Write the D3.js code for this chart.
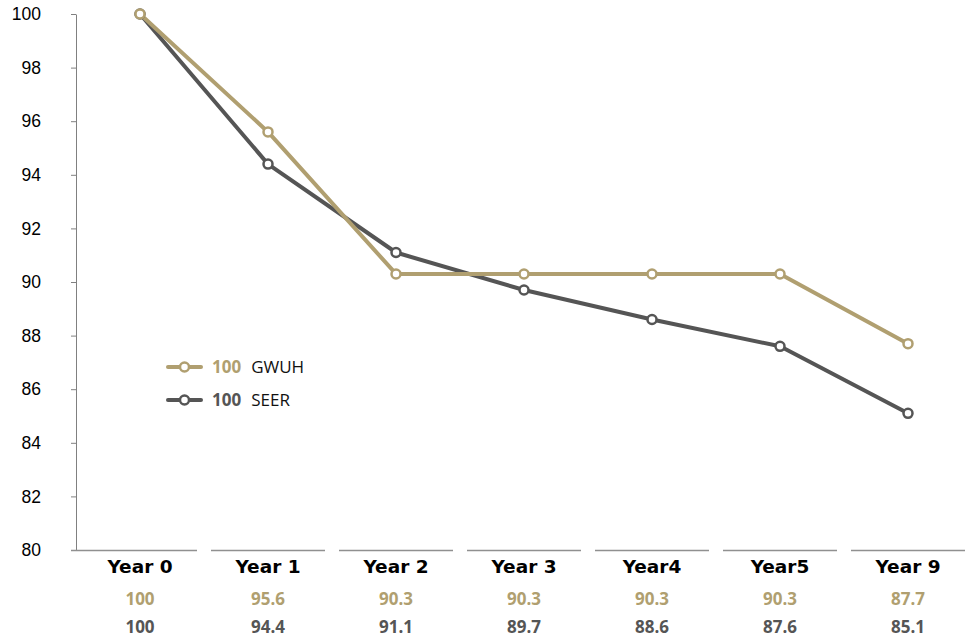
<!DOCTYPE html>
<html><head><meta charset="utf-8">
<script src="https://cdn.jsdelivr.net/npm/d3@7/dist/d3.min.js"></script>
<style>body{margin:0;background:#fff}svg{display:block}</style>
</head><body><svg id="c" width="965" height="642"></svg>
<script>
const categories = ["Year 0","Year 1","Year 2","Year 3","Year4","Year5","Year 9"];
const gwuh = [100, 95.6, 90.3, 90.3, 90.3, 90.3, 87.7];
const seer = [100, 94.4, 91.1, 89.7, 88.6, 87.6, 85.1];
const seriesNames = ["GWUH", "SEER"];
const yTicks = [80,82,84,86,88,90,92,94,96,98,100];
const colors = ["#b09f70", "#555555"];

const svg = d3.select("#c");
const x = d3.scaleBand().domain(categories).range([76, 972]);
const y = d3.scaleLinear().domain([80, 100]).range([550, 14]);

// y axis
const ya = svg.append("g").attr("transform","translate(76,0)")
  .call(d3.axisLeft(y).tickValues(yTicks).tickSize(5).tickSizeOuter(0).tickPadding(30));
ya.select(".domain").attr("stroke","#808080").attr("stroke-width",1);
ya.selectAll(".tick line").attr("stroke","#808080");
ya.selectAll("text").attr("font-family","Liberation Sans, Arial, sans-serif").attr("font-size",17.5).attr("fill","#000");

// bottom segments
categories.forEach((c,i)=>{
  const x0 = i===0 ? 71 : x(c)+7;
  const x1 = x(c)+x.bandwidth()-7;
  svg.append("line").attr("x1",x0).attr("x2",x1).attr("y1",y(80)+0.5).attr("y2",y(80)+0.5)
    .attr("stroke","#909090").attr("stroke-width",1.5);
});

// category labels
svg.append("g").selectAll("text").data(categories).join("text")
  .attr("x",d=>x(d)+x.bandwidth()/2).attr("y",573).attr("text-anchor","middle")
  .attr("font-family","DejaVu Sans, Verdana, sans-serif").attr("font-weight","bold").attr("font-size",18.5)
  .attr("fill","#000").text(d=>d);

// value rows
[gwuh, seer].forEach((s,k)=>{
  svg.append("g").selectAll("text").data(s).join("text")
    .attr("x",(d,i)=>x(categories[i])+x.bandwidth()/2).attr("y",k===0?605:633).attr("text-anchor","middle")
    .attr("font-family","Open Sans, sans-serif").attr("font-weight","bold").attr("font-size",17)
    .attr("fill",colors[k]).text(d=>d);
});

// lines
const line = d3.line().x((d,i)=>x(categories[i])+x.bandwidth()/2).y(d=>y(d));
[seer, gwuh].forEach((s)=>{
  const k = s===gwuh?0:1;
  svg.append("path").datum(s).attr("d",line).attr("fill","none")
    .attr("stroke",colors[k]).attr("stroke-width",4).attr("stroke-linejoin","round");
});
[seer, gwuh].forEach((s)=>{
  const k = s===gwuh?0:1;
  svg.append("g").selectAll("circle").data(s).join("circle")
    .attr("cx",(d,i)=>x(categories[i])+x.bandwidth()/2).attr("cy",d=>y(d)).attr("r",4.5)
    .attr("fill","#fff").attr("stroke",colors[k]).attr("stroke-width",2.5);
});

// legend
const leg = svg.append("g");
[0,1].forEach(k=>{
  const ly = 367 + k*33;
  leg.append("line").attr("x1",168).attr("x2",201).attr("y1",ly).attr("y2",ly)
    .attr("stroke",colors[k]).attr("stroke-width",4).attr("stroke-linecap","round");
  leg.append("circle").attr("cx",184.5).attr("cy",ly).attr("r",4.5).attr("fill","#fff")
    .attr("stroke",colors[k]).attr("stroke-width",2.5);
  const t = leg.append("text").attr("x",212).attr("y",ly+6)
    .attr("font-family","Open Sans, sans-serif").attr("font-size",17);
  t.append("tspan").attr("font-weight","bold").attr("fill",colors[k]).text("100");
  t.append("tspan").attr("dx",10).attr("fill","#111").text(seriesNames[k]);
});
</script></body></html>
